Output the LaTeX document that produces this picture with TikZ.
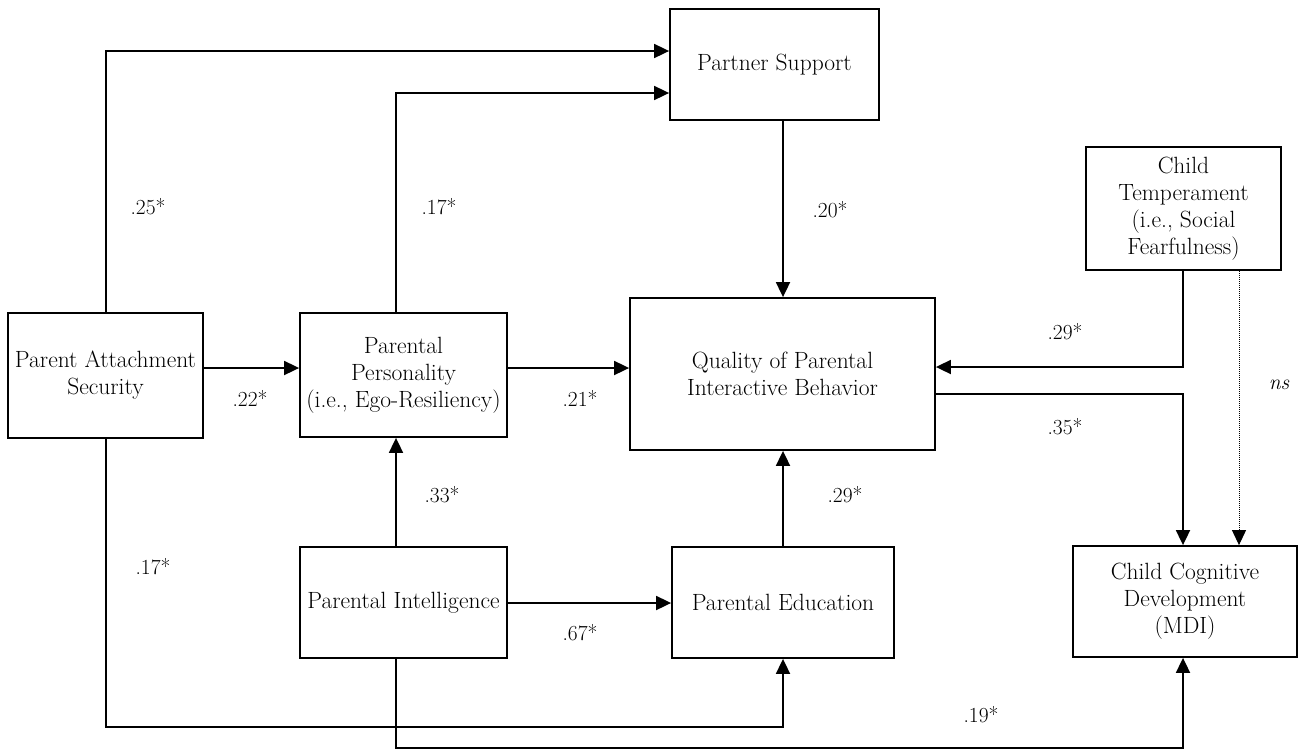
\documentclass[tikz,border=0pt]{standalone}
\usetikzlibrary{arrows.meta}
\begin{document}
\begin{tikzpicture}[x=1pt,y=-1pt,
  box/.style={draw,line width=1.8pt,rectangle,inner sep=0pt,align=center,font=\fontsize{23.5}{27}\selectfont},
  arr/.style={line width=1.8pt,-{Triangle[length=15pt,width=14pt]}},
  dotarr/.style={line width=1pt,densely dotted,-{Triangle[length=15pt,width=14pt]}},
  lab/.style={inner sep=0pt,font=\fontsize{21.5}{25}\selectfont}]
\useasboundingbox (0,0) rectangle (1299,753);
% boxes
\node[box,minimum width=209pt,minimum height=111pt] (PS) at (774.5,64.5) {Partner Support};
\node[box,minimum width=195pt,minimum height=123pt] (CT) at (1183.5,208.5) {Child\\Temperament\\(i.e., Social\\Fearfulness)};
\node[box,minimum width=195pt,minimum height=125pt] (PAS) at (105.5,375.5) {Parent Attachment\\Security};
\node[box,minimum width=207pt,minimum height=124pt] (PP) at (403.5,375) {Parental\\Personality\\(i.e., Ego-Resiliency)};
\node[box,minimum width=305pt,minimum height=152pt] (Q) at (782.5,374) {Quality of Parental\\Interactive Behavior};
\node[box,minimum width=207pt,minimum height=111pt] (PI) at (403.5,602.5) {Parental Intelligence};
\node[box,minimum width=222pt,minimum height=111pt] (PE) at (783,602.5) {Parental Education};
\node[box,minimum width=224pt,minimum height=111pt] (CCD) at (1185,601.5) {Child Cognitive\\Development\\(MDI)};
% routing coordinates
\coordinate (xa) at (106,0);
\coordinate (xb) at (396,0);
\coordinate (xc) at (783,0);
\coordinate (xd) at (1183,0);
\coordinate (xe) at (1239,0);
\coordinate (r1) at (0,51);
\coordinate (r2) at (0,93);
\coordinate (r3) at (0,368);
\coordinate (r4) at (0,367);
\coordinate (r5) at (0,394);
\coordinate (r6) at (0,603);
\coordinate (r7) at (0,727);
\coordinate (r8) at (0,748);
% connectors
\draw[arr] (PAS.north -| xa) |- (PS.west |- r1);
\draw[arr] (PP.north -| xb) |- (PS.west |- r2);
\draw[arr] (PS.south -| xc) -- (Q.north -| xc);
\draw[arr] (PAS.east |- r3) -- (PP.west |- r3);
\draw[arr] (PP.east |- r3) -- (Q.west |- r3);
\draw[arr] (CT.south -| xd) |- (Q.east |- r4);
\draw[arr] (Q.east |- r5) -| (CCD.north -| xd);
\draw[dotarr] (CT.south -| xe) -- (CCD.north -| xe);
\draw[arr] (PI.north -| xb) -- (PP.south -| xb);
\draw[arr] (PI.east |- r6) -- (PE.west |- r6);
\draw[arr] (PE.north -| xc) -- (Q.south -| xc);
\draw[arr] (PAS.south -| xa) |- (xc |- r7) -- (PE.south -| xc);
\draw[arr] (PI.south -| xb) |- (xd |- r8) -- (CCD.south -| xd);
% labels
\node[lab] (l1) at (148,207) {.25*};
\node[lab] (l2) at (439,207) {.17*};
\node[lab] (l3) at (830,210) {.20*};
\node[lab] (l4) at (1065,332) {.29*};
\node[lab] (l5) at (1279,385) {\itshape ns};
\node[lab] (l6) at (1065,427) {.35*};
\node[lab] (l7) at (845,495) {.29*};
\node[lab] (l8) at (981,715) {.19*};
\node[lab] (l9) at (250,398) {.22*};
\node[lab] (l10) at (580,398) {.21*};
\node[lab] (l11) at (442,495) {.33*};
\node[lab] (l12) at (153,567) {.17*};
\node[lab] (l13) at (580,633) {.67*};
\end{tikzpicture}
\end{document}
